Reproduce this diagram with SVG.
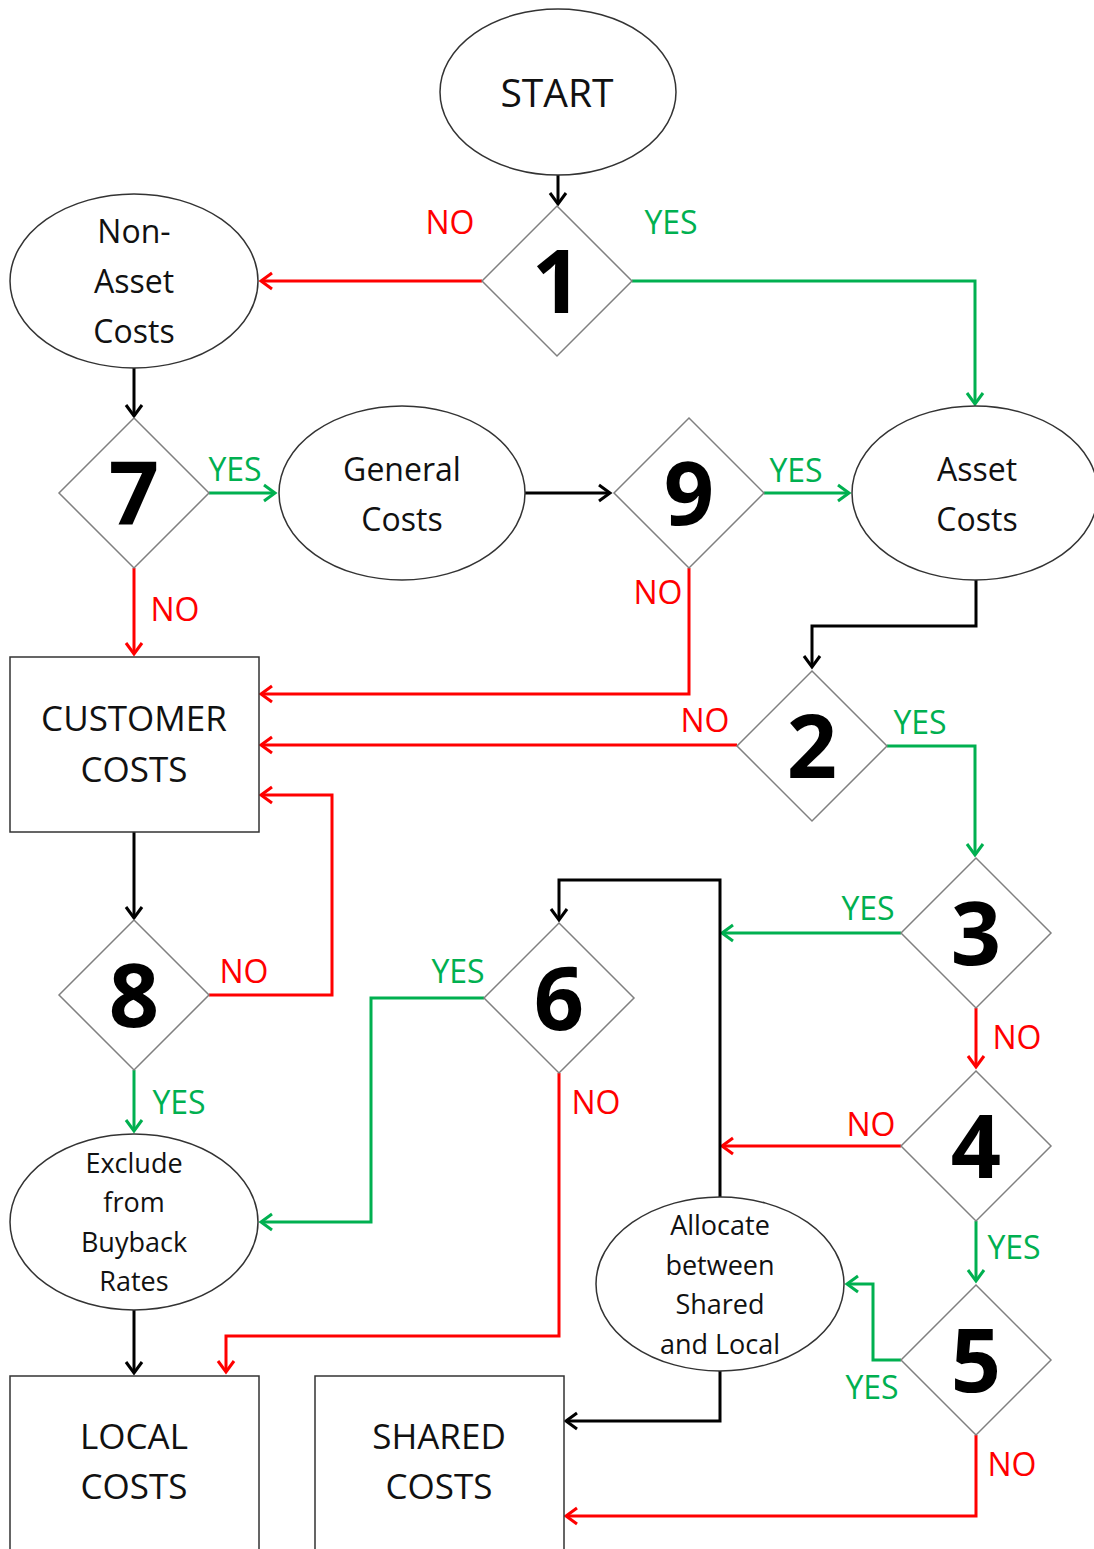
<svg xmlns="http://www.w3.org/2000/svg" width="1094" height="1549" viewBox="0 0 1094 1549">
<style>
.bg{fill:#fff}
.ell{fill:#fff;stroke:#333;stroke-width:1.5}
.box{fill:#fff;stroke:#333;stroke-width:1.5}
.dia{fill:#fff;stroke:#808080;stroke-width:1.5}
.t{font-family:"Open Sans","Liberation Sans",sans-serif;fill:#111;text-anchor:middle}
.big{font-size:35px}
.mid{font-size:32px}
.sm{font-size:27px}
.num{font-family:"Open Sans","Liberation Sans",sans-serif;font-weight:bold;font-size:88px;fill:#000;text-anchor:middle}
.lbl{font-family:"Open Sans","Liberation Sans",sans-serif;font-size:32px;text-anchor:middle}
.r{fill:#ff0000}
.g{fill:#00b050}
.ck{fill:none;stroke:#000;stroke-width:3}
.cr{fill:none;stroke:#ff0000;stroke-width:3}
.cg{fill:none;stroke:#00b050;stroke-width:3}
</style>
<defs>
<marker id="ak" markerUnits="userSpaceOnUse" markerWidth="24" markerHeight="24" refX="12" refY="12" orient="auto"><path d="M1,4 L12,12 L1,20" fill="none" stroke="#000" stroke-width="3"/></marker>
<marker id="ar" markerUnits="userSpaceOnUse" markerWidth="24" markerHeight="24" refX="12" refY="12" orient="auto"><path d="M1,4 L12,12 L1,20" fill="none" stroke="#ff0000" stroke-width="3"/></marker>
<marker id="ag" markerUnits="userSpaceOnUse" markerWidth="24" markerHeight="24" refX="12" refY="12" orient="auto"><path d="M1,4 L12,12 L1,20" fill="none" stroke="#00b050" stroke-width="3"/></marker>
</defs>
<rect class="bg" x="0" y="0" width="1094" height="1549"/>

<g id="connectors">
<path class="ck" d="M558,175 V204" marker-end="url(#ak)"/>
<path class="cr" d="M482,281 H261" marker-end="url(#ar)"/>
<path class="cg" d="M632,281 H975 V404" marker-end="url(#ag)"/>
<path class="ck" d="M134,368 V416" marker-end="url(#ak)"/>
<path class="cg" d="M209,493 H275" marker-end="url(#ag)"/>
<path class="ck" d="M525,493 H610" marker-end="url(#ak)"/>
<path class="cg" d="M764,493 H849" marker-end="url(#ag)"/>
<path class="ck" d="M976,580 V626 H812 V667" marker-end="url(#ak)"/>
<path class="cr" d="M689,568 V694 H261" marker-end="url(#ar)"/>
<path class="cr" d="M134,568 V654" marker-end="url(#ar)"/>
<path class="cr" d="M737,745 H261" marker-end="url(#ar)"/>
<path class="cg" d="M887,746 H975 V855" marker-end="url(#ag)"/>
<path class="cg" d="M901,933 H722" marker-end="url(#ag)"/>
<path class="cr" d="M976,1008 V1067" marker-end="url(#ar)"/>
<path class="cr" d="M901,1146 H722" marker-end="url(#ar)"/>
<path class="cg" d="M976,1221 V1281" marker-end="url(#ag)"/>
<path class="cg" d="M901,1360 H873 V1284 H847" marker-end="url(#ag)"/>
<path class="cr" d="M976,1435 V1516 H566" marker-end="url(#ar)"/>
<path class="ck" d="M720,1197 V880 H559 V920" marker-end="url(#ak)"/>
<path class="ck" d="M720,1371 V1421 H566" marker-end="url(#ak)"/>
<path class="cg" d="M484,998 H371 V1222 H261" marker-end="url(#ag)"/>
<path class="cr" d="M559,1073 V1336 H226 V1372" marker-end="url(#ar)"/>
<path class="ck" d="M134,832 V918" marker-end="url(#ak)"/>
<path class="cr" d="M209,995 H332 V795 H261" marker-end="url(#ar)"/>
<path class="cg" d="M134,1070 V1131" marker-end="url(#ag)"/>
<path class="ck" d="M134,1310 V1373" marker-end="url(#ak)"/>
</g>

<g id="labels">
<text class="lbl r" x="450" y="234">NO</text>
<text class="lbl g" x="671" y="234">YES</text>
<text class="lbl g" x="235" y="481">YES</text>
<text class="lbl g" x="796" y="482">YES</text>
<text class="lbl r" x="175" y="621">NO</text>
<text class="lbl r" x="658" y="604">NO</text>
<text class="lbl r" x="705" y="732">NO</text>
<text class="lbl g" x="920" y="734">YES</text>
<text class="lbl g" x="868" y="920">YES</text>
<text class="lbl r" x="1017" y="1049">NO</text>
<text class="lbl r" x="871" y="1136">NO</text>
<text class="lbl g" x="1014" y="1259">YES</text>
<text class="lbl g" x="872" y="1399">YES</text>
<text class="lbl r" x="1012" y="1476">NO</text>
<text class="lbl g" x="458" y="983">YES</text>
<text class="lbl r" x="596" y="1114">NO</text>
<text class="lbl r" x="244" y="983">NO</text>
<text class="lbl g" x="179" y="1114">YES</text>
</g>

<g id="start"><ellipse class="ell" cx="558" cy="92" rx="118" ry="83"/><text class="t" style="font-size:39px" x="557" y="107">START</text></g>
<g id="d1"><polygon class="dia" points="557,206 632,281 557,356 482,281"/><text class="num" x="557" y="313">1</text></g>
<g id="nonasset"><ellipse class="ell" cx="134" cy="281" rx="124" ry="87"/><text class="t mid" x="134" y="243">Non-</text><text class="t mid" x="134" y="293">Asset</text><text class="t mid" x="134" y="343">Costs</text></g>
<g id="d7"><polygon class="dia" points="134,418 209,493 134,568 59,493"/><text class="num" x="134" y="525">7</text></g>
<g id="general"><ellipse class="ell" cx="402" cy="493" rx="123" ry="87"/><text class="t mid" x="402" y="481">General</text><text class="t mid" x="402" y="531">Costs</text></g>
<g id="d9"><polygon class="dia" points="689,418 764,493 689,568 614,493"/><text class="num" x="689" y="525">9</text></g>
<g id="asset"><ellipse class="ell" cx="975" cy="493" rx="123" ry="87"/><text class="t mid" x="977" y="481">Asset</text><text class="t mid" x="977" y="531">Costs</text></g>
<g id="customer"><rect class="box" x="10" y="657" width="249" height="175"/><text class="t big" x="134" y="731">CUSTOMER</text><text class="t big" x="134" y="782">COSTS</text></g>
<g id="d2"><polygon class="dia" points="812,671 887,746 812,821 737,746"/><text class="num" x="812" y="778">2</text></g>
<g id="d3"><polygon class="dia" points="976,858 1051,933 976,1008 901,933"/><text class="num" x="976" y="965">3</text></g>
<g id="d4"><polygon class="dia" points="976,1071 1051,1146 976,1221 901,1146"/><text class="num" x="976" y="1178">4</text></g>
<g id="d5"><polygon class="dia" points="976,1285 1051,1360 976,1435 901,1360"/><text class="num" x="976" y="1392">5</text></g>
<g id="d6"><polygon class="dia" points="559,923 634,998 559,1073 484,998"/><text class="num" x="559" y="1030">6</text></g>
<g id="d8"><polygon class="dia" points="134,920 209,995 134,1070 59,995"/><text class="num" x="134" y="1027">8</text></g>
<g id="allocate"><ellipse class="ell" cx="720" cy="1284" rx="124" ry="87"/><text class="t sm" x="720" y="1235">Allocate</text><text class="t sm" x="720" y="1275">between</text><text class="t sm" x="720" y="1314">Shared</text><text class="t sm" x="720" y="1354">and Local</text></g>
<g id="exclude"><ellipse class="ell" cx="134" cy="1222" rx="124" ry="88"/><text class="t sm" x="134" y="1173">Exclude</text><text class="t sm" x="134" y="1212">from</text><text class="t sm" x="134" y="1252">Buyback</text><text class="t sm" x="134" y="1291">Rates</text></g>
<g id="local"><rect class="box" x="10" y="1376" width="249" height="190"/><text class="t big" x="134" y="1449">LOCAL</text><text class="t big" x="134" y="1499">COSTS</text></g>
<g id="shared"><rect class="box" x="315" y="1376" width="249" height="190"/><text class="t big" x="439" y="1449">SHARED</text><text class="t big" x="439" y="1499">COSTS</text></g>
</svg>
